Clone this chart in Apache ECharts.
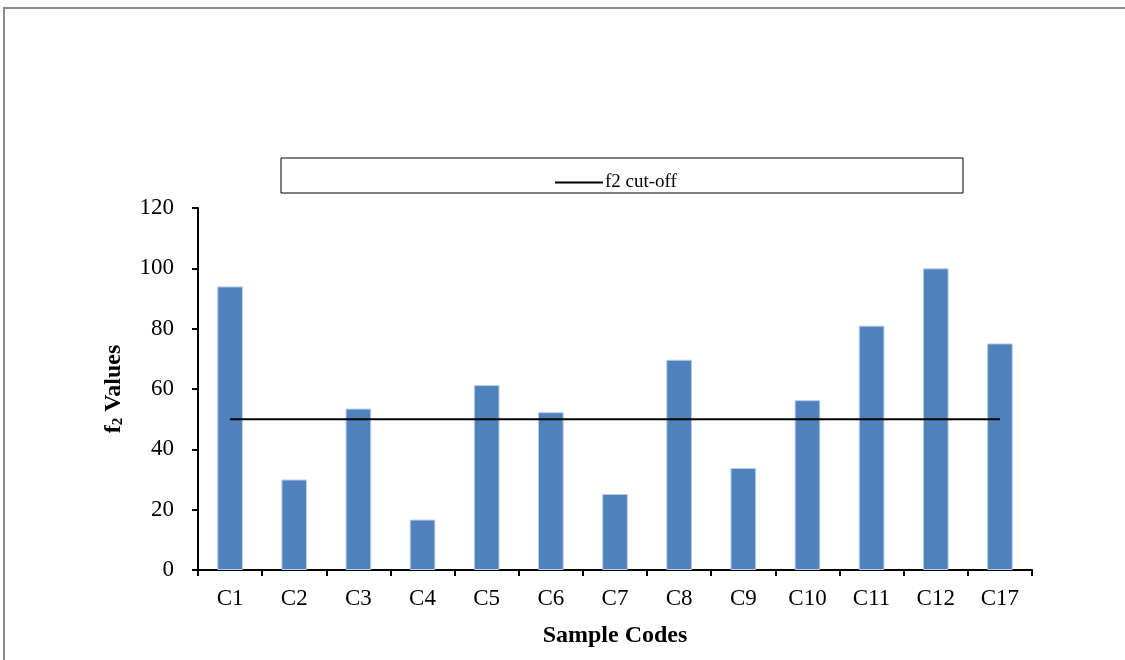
<!DOCTYPE html>
<html>
<head>
<meta charset="utf-8">
<script src="https://cdn.jsdelivr.net/npm/echarts@6/dist/echarts.min.js"></script>
<style>html,body{margin:0;padding:0;background:#fff}#c{width:1125px;height:660px}</style>
</head>
<body>
<div id="c"></div>
<script>
const categories = ['C1','C2','C3','C4','C5','C6','C7','C8','C9','C10','C11','C12','C17'];
const f2Values = [94, 30, 53.5, 16.7, 61.3, 52.3, 25.2, 69.7, 33.8, 56.3, 81, 100, 75.1];
const cutoffValues = [50, 50, 50, 50, 50, 50, 50, 50, 50, 50, 50, 50, 50];
const yTicks = {min: 0, max: 120, interval: 20};

const serif = '"Liberation Serif", "Times New Roman", serif';
const chart = echarts.init(document.getElementById('c'));
chart.setOption({
  animation: false,
  backgroundColor: '#fff',
  graphic: [
    {type: 'rect', shape: {x: 4, y: 8, width: 1140, height: 700}, style: {fill: 'none', stroke: '#8a8a8a', lineWidth: 2}, silent: true},
    {type: 'rect', shape: {x: 281, y: 158, width: 682, height: 35}, style: {fill: 'none', stroke: '#000', lineWidth: 1}, silent: true}
  ],
  legend: {
    data: [{name: 'f2 cut-off', icon: 'rect'}],
    left: 550, top: 168,
    itemWidth: 48, itemHeight: 2, itemGap: 4,
    textStyle: {fontFamily: serif, fontSize: 19, color: '#000', padding: [0,0,0,-3]}
  },
  grid: {left: 198, right: 93, top: 208, bottom: 90},
  xAxis: {
    type: 'category',
    data: categories,
    name: 'Sample Codes',
    nameLocation: 'middle',
    nameGap: 54,
    nameTextStyle: {fontFamily: serif, fontSize: 24, fontWeight: 'bold', color: '#000'},
    axisLine: {lineStyle: {color: '#000', width: 2}},
    axisTick: {show: true, length: 6, lineStyle: {color: '#000', width: 2}},
    axisLabel: {fontFamily: serif, fontSize: 23, color: '#000', margin: 17}
  },
  yAxis: {
    type: 'value',
    min: yTicks.min, max: yTicks.max, interval: yTicks.interval,
    name: '{a|f}{s|2}{a| Values}',
    nameLocation: 'middle',
    nameGap: 72,
    nameRotate: 90,
    nameTextStyle: {
      rich: {
        a: {fontFamily: serif, fontSize: 24, fontWeight: 'bold', color: '#000'},
        s: {fontFamily: serif, fontSize: 15, fontWeight: 'bold', color: '#000', verticalAlign: 'bottom', padding: [9,0,0,0]}
      }
    },
    splitLine: {show: false},
    axisLine: {show: true, lineStyle: {color: '#000', width: 2}},
    axisTick: {show: true, length: 6, lineStyle: {color: '#000', width: 2}},
    axisLabel: {fontFamily: serif, fontSize: 23, color: '#000', margin: 24}
  },
  series: [
    {
      name: 'f2 Values', type: 'bar', data: f2Values, barWidth: '40%',
      itemStyle: {color: '#4F81BD', borderColor: '#B9CDE5', borderWidth: 1}
    },
    {
      name: 'f2 cut-off', type: 'line', data: cutoffValues, symbol: 'none',
      itemStyle: {color: '#000'},
      lineStyle: {color: '#000', width: 2}
    }
  ]
});
</script>
</body>
</html>
